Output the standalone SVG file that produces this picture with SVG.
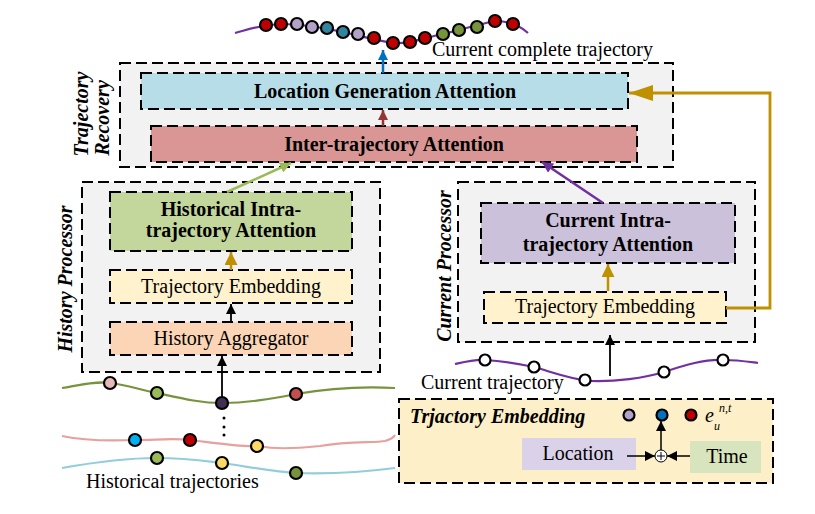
<svg xmlns="http://www.w3.org/2000/svg" width="815" height="514" viewBox="0 0 815 514" font-family="'Liberation Serif', 'Times New Roman', Tinos, 'DejaVu Serif', serif">
<style>
.box{stroke:#000;stroke-width:2;stroke-dasharray:11 5}
.t{fill:#000}
.b{font-weight:bold;font-size:20px}
.n{font-size:20px}
.lab{font-weight:bold;font-style:italic;font-size:20px}
.dot{stroke:#000;stroke-width:2.2}
.wdot{fill:#fff;stroke:#000;stroke-width:2.2}
</style>
<defs>
<marker id="ab" viewBox="0 0 10 10" refX="10" refY="5" markerUnits="userSpaceOnUse" markerWidth="10" markerHeight="10" orient="auto"><path d="M0,0L10,5L0,10z" fill="#000"/></marker>
<marker id="ablue" viewBox="0 0 10 10" refX="10" refY="5" markerUnits="userSpaceOnUse" markerWidth="10" markerHeight="10" orient="auto"><path d="M0,0L10,5L0,10z" fill="#0070c0"/></marker>
<marker id="ared" viewBox="0 0 10 10" refX="10" refY="5" markerUnits="userSpaceOnUse" markerWidth="10" markerHeight="10" orient="auto"><path d="M0,0L10,5L0,10z" fill="#943634"/></marker>
<marker id="agreen" viewBox="0 0 10 10" refX="10" refY="5" markerUnits="userSpaceOnUse" markerWidth="11" markerHeight="11" orient="auto"><path d="M0,0L10,5L0,10z" fill="#9bbb59"/></marker>
<marker id="apurple" viewBox="0 0 10 10" refX="10" refY="5" markerUnits="userSpaceOnUse" markerWidth="11" markerHeight="11" orient="auto"><path d="M0,0L10,5L0,10z" fill="#7030a0"/></marker>
<marker id="agold" viewBox="0 0 10 10" refX="10" refY="5" markerUnits="userSpaceOnUse" markerWidth="13" markerHeight="13" orient="auto"><path d="M0,0L10,5L0,10z" fill="#bf9000"/></marker>
<marker id="agoldL" viewBox="0 0 24 16" refX="24" refY="8" markerUnits="userSpaceOnUse" markerWidth="24" markerHeight="16" orient="auto"><path d="M0,0L24,8L0,16z" fill="#bf9000"/></marker>
</defs>
<rect width="815" height="514" fill="#fff"/>

<g id="complete-trajectory">
<path d="M235,33 C250,29 260,25 281,24 C300,24 320,27 343,32 C360,36 375,40 393,43 C410,44 420,39 443,34 C460,30 480,24 495,21 C508,21 518,24 528,33" fill="none" stroke="#7030a0" stroke-width="2.2"/>
<circle class="dot" cx="266" cy="25" r="6" fill="#c00000"/>
<circle class="dot" cx="281" cy="24" r="6" fill="#c00000"/>
<circle class="dot" cx="297" cy="24" r="6" fill="#b3a2c7"/>
<circle class="dot" cx="312" cy="27" r="6" fill="#b3a2c7"/>
<circle class="dot" cx="327" cy="28" r="6" fill="#31859c"/>
<circle class="dot" cx="343" cy="32" r="6" fill="#31859c"/>
<circle class="dot" cx="358" cy="34" r="6" fill="#b3a2c7"/>
<circle class="dot" cx="374" cy="38" r="6" fill="#c00000"/>
<circle class="dot" cx="393" cy="43" r="6" fill="#c00000"/>
<circle class="dot" cx="410" cy="42" r="6" fill="#c00000"/>
<circle class="dot" cx="425" cy="38" r="6" fill="#c00000"/>
<circle class="dot" cx="443" cy="34" r="6" fill="#77933c"/>
<circle class="dot" cx="459" cy="30" r="6" fill="#77933c"/>
<circle class="dot" cx="477" cy="27" r="6" fill="#77933c"/>
<circle class="dot" cx="495" cy="21" r="6" fill="#c00000"/>
<circle class="dot" cx="513" cy="24" r="6" fill="#c00000"/>
<text class="t n" x="432" y="56">Current complete trajectory</text>
</g>

<g id="trajectory-recovery">
<rect class="box" x="120" y="63" width="553" height="104" fill="#f2f2f2"/>
<text class="t lab" transform="translate(88,114) rotate(-90)" text-anchor="middle">Trajectory</text>
<text class="t lab" transform="translate(109,118) rotate(-90)" text-anchor="middle">Recovery</text>
</g>
<g id="location-generation-attention">
<rect class="box" x="141" y="73" width="487" height="36" fill="#b7dde8"/>
<text class="t b" x="385" y="98" text-anchor="middle">Location Generation Attention</text>
</g>
<g id="inter-trajectory-attention">
<rect class="box" x="151" y="126" width="486" height="36" fill="#d99694"/>
<text class="t b" x="394" y="151" text-anchor="middle">Inter-trajectory Attention</text>
</g>

<g id="history-processor">
<rect class="box" x="82" y="182" width="298" height="190" fill="#f2f2f2"/>
<text class="t lab" transform="translate(72,279) rotate(-90)" text-anchor="middle">History Processor</text>
</g>
<g id="historical-intra-attention">
<rect class="box" x="110" y="192" width="242" height="59" fill="#c3d69b"/>
<text class="t b" x="231" y="216" text-anchor="middle">Historical Intra-</text>
<text class="t b" x="231" y="237" text-anchor="middle">trajectory Attention</text>
</g>
<g id="history-trajectory-embedding">
<rect class="box" x="110" y="270" width="242" height="33" fill="#fff2cc"/>
<text class="t n" x="231" y="293" text-anchor="middle">Trajectory Embedding</text>
</g>
<g id="history-aggregator">
<rect class="box" x="110" y="322" width="242" height="33" fill="#fbd5b5"/>
<text class="t n" x="231" y="345" text-anchor="middle">History Aggregator</text>
</g>

<g id="current-processor">
<rect class="box" x="458" y="182" width="297" height="160" fill="#f2f2f2"/>
<text class="t lab" transform="translate(451,266) rotate(-90)" text-anchor="middle">Current Processor</text>
</g>
<g id="current-intra-attention">
<rect class="box" x="481" y="203" width="254" height="60" fill="#ccc1da"/>
<text class="t b" x="608" y="227" text-anchor="middle">Current Intra-</text>
<text class="t b" x="608" y="251" text-anchor="middle">trajectory Attention</text>
</g>
<g id="current-trajectory-embedding">
<rect class="box" x="484" y="292" width="242" height="31" fill="#fff2cc"/>
<text class="t n" x="605" y="313" text-anchor="middle">Trajectory Embedding</text>
</g>

<g id="current-trajectory">
<path d="M455,364 C468,361 476,359 485,360 C505,361 520,364 534,367 C555,373 570,379 590,381 C615,382 645,378 664,372 C685,365 705,359 723,360 C738,360 750,362 758,363" fill="none" stroke="#7030a0" stroke-width="2.2"/>
<circle class="wdot" cx="485" cy="360" r="5.5"/>
<circle class="wdot" cx="534" cy="367" r="5.5"/>
<circle class="wdot" cx="585" cy="380" r="5.5"/>
<circle class="wdot" cx="664" cy="372" r="5.5"/>
<circle class="wdot" cx="723" cy="360" r="5.5"/>
<text class="t n" x="421" y="389">Current trajectory</text>
</g>

<g id="historical-trajectories">
<path d="M62,388 C80,385 95,381 110,383 C128,385 140,390 157,393 C180,398 200,403 222,403 C250,403 275,398 296,394 C330,388 360,386 395,388" fill="none" stroke="#77933c" stroke-width="2.2"/>
<path d="M62,436 C85,441 110,441 135,440 C155,440 175,438 190,440 C215,443 240,447 257,446 C275,449 290,449 320,446 C350,441 375,443 385,441 C392,439 394,437 395,435" fill="none" stroke="#e6a19e" stroke-width="2.2"/>
<path d="M62,468 C90,463 125,458 157,458 C185,458 205,461 222,463 C250,467 275,472 296,473 C330,474 365,472 395,468" fill="none" stroke="#92cddc" stroke-width="2.2"/>
<circle class="dot" cx="110" cy="383" r="6" fill="#e6b9b8"/>
<circle class="dot" cx="157" cy="393" r="6" fill="#9bbb59"/>
<circle class="dot" cx="222" cy="403" r="6" fill="#403152"/>
<circle class="dot" cx="296" cy="394" r="6" fill="#c0504d"/>
<circle cx="224" cy="418" r="1.5" fill="#000"/>
<circle cx="224" cy="427" r="1.5" fill="#000"/>
<circle cx="224" cy="435" r="1.5" fill="#000"/>
<circle class="dot" cx="135" cy="440" r="6" fill="#00b0f0"/>
<circle class="dot" cx="190" cy="440" r="6" fill="#c00000"/>
<circle class="dot" cx="257" cy="446" r="6" fill="#ffd966"/>
<circle class="dot" cx="157" cy="458" r="6" fill="#9bbb59"/>
<circle class="dot" cx="222" cy="463" r="6" fill="#ffd966"/>
<circle class="dot" cx="296" cy="473" r="6" fill="#77933c"/>
<text class="t n" x="86" y="488">Historical trajectories</text>
</g>

<g id="trajectory-embedding-detail">
<rect class="box" x="399" y="399" width="374" height="84" fill="#fdf0c8"/>
<text class="t lab" x="410" y="423">Trjactory Embedding</text>
<circle class="dot" cx="629" cy="415" r="5.5" fill="#b3a2c7"/>
<circle class="dot" cx="662" cy="415" r="5.5" fill="#0070c0"/>
<circle class="dot" cx="691" cy="415" r="5.5" fill="#c00000"/>
<text class="t" x="705" y="422" font-size="20" font-style="italic">e</text>
<text class="t" x="714" y="430" font-size="12" font-style="italic">u</text>
<text class="t" x="719" y="412" font-size="12" font-style="italic">n,t</text>
<rect x="522" y="438" width="114" height="32" fill="#d9d2e9"/>
<text class="t n" x="578" y="460" text-anchor="middle">Location</text>
<rect x="690" y="441" width="71" height="32" fill="#d7e4bd"/>
<text class="t n" x="727" y="463" text-anchor="middle">Time</text>
<circle cx="661" cy="456" r="6" fill="#fff" stroke="#000" stroke-width="1"/>
<path d="M657,456H665M661,452V460" stroke="#000" stroke-width="1"/>
</g>

<g id="connectors" fill="none">
<line x1="383" y1="73" x2="383" y2="50" stroke="#0070c0" stroke-width="2.5" marker-end="url(#ablue)"/>
<line x1="383" y1="126" x2="383" y2="110" stroke="#943634" stroke-width="2.5" marker-end="url(#ared)"/>
<line x1="227" y1="192" x2="291" y2="163" stroke="#9bbb59" stroke-width="2.5" marker-end="url(#agreen)"/>
<line x1="603" y1="203" x2="542" y2="162" stroke="#7030a0" stroke-width="2.5" marker-end="url(#apurple)"/>
<polyline points="726,308 770,308 770,93 629,93" stroke="#bf9000" stroke-width="2.8" marker-end="url(#agoldL)"/>
<line x1="231" y1="270" x2="231" y2="252" stroke="#bf9000" stroke-width="2.5" marker-end="url(#agold)"/>
<line x1="608" y1="291" x2="608" y2="264" stroke="#bf9000" stroke-width="2.5" marker-end="url(#agold)"/>
<line x1="231" y1="322" x2="231" y2="304" stroke="#000" stroke-width="1.8" marker-end="url(#ab)"/>
<line x1="222" y1="397" x2="222" y2="356" stroke="#000" stroke-width="1.8" marker-end="url(#ab)"/>
<line x1="610" y1="376" x2="610" y2="335" stroke="#000" stroke-width="1.8" marker-end="url(#ab)"/>
<line x1="627" y1="456" x2="655" y2="456" stroke="#000" stroke-width="1.5" marker-end="url(#ab)"/>
<line x1="690" y1="456" x2="667" y2="456" stroke="#000" stroke-width="1.5" marker-end="url(#ab)"/>
<line x1="661" y1="450" x2="661" y2="421" stroke="#000" stroke-width="1.5" marker-end="url(#ab)"/>
</g>
</svg>
